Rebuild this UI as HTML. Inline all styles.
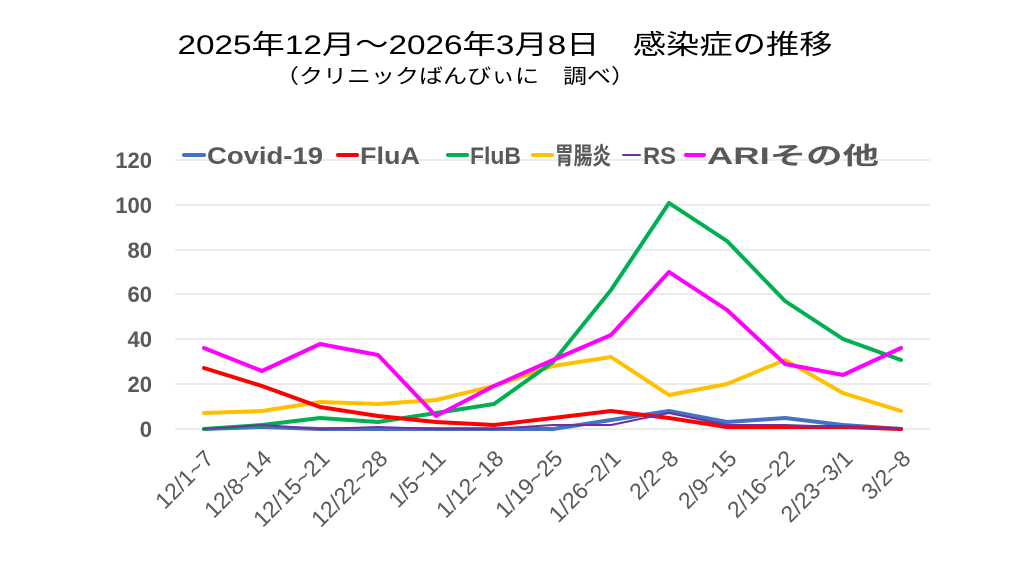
<!DOCTYPE html>
<html><head><meta charset="utf-8"><style>body{margin:0;background:#fff}svg{display:block}</style></head>
<body>
<svg width="1024" height="576" xmlns="http://www.w3.org/2000/svg" font-family="'Liberation Sans','Noto Sans CJK JP',sans-serif">
<text x="505" y="54" font-size="27" text-anchor="middle" fill="#000" textLength="655" lengthAdjust="spacingAndGlyphs">2025年12月～2026年3月8日　感染症の推移</text>
<text x="455" y="83" font-size="20" text-anchor="middle" fill="#000" textLength="360" lengthAdjust="spacingAndGlyphs">（クリニックばんびぃに　調べ）</text>
<g stroke="#d9d9d9" stroke-width="1">
<line x1="175" x2="930" y1="160" y2="160"/><line x1="175" x2="930" y1="205" y2="205"/><line x1="175" x2="930" y1="250" y2="250"/><line x1="175" x2="930" y1="294" y2="294"/><line x1="175" x2="930" y1="339" y2="339"/><line x1="175" x2="930" y1="384" y2="384"/><line x1="175" x2="930" y1="429" y2="429"/>
</g>
<g font-size="22" font-weight="bold" fill="#595959" text-anchor="end">
<text x="152" y="168">120</text><text x="152" y="213">100</text><text x="152" y="258">80</text><text x="152" y="302">60</text><text x="152" y="347">40</text><text x="152" y="392">20</text><text x="152" y="437">0</text>
</g>
<g font-size="23" fill="#595959" text-anchor="end">
<text transform="translate(215,460) rotate(-45)">12/1~7</text>
<text transform="translate(273,460) rotate(-45)">12/8~14</text>
<text transform="translate(331,460) rotate(-45)">12/15~21</text>
<text transform="translate(389,460) rotate(-45)">12/22~28</text>
<text transform="translate(447,460) rotate(-45)">1/5~11</text>
<text transform="translate(505,460) rotate(-45)">1/12~18</text>
<text transform="translate(564,460) rotate(-45)">1/19~25</text>
<text transform="translate(622,460) rotate(-45)">1/26~2/1</text>
<text transform="translate(680,460) rotate(-45)">2/2~8</text>
<text transform="translate(738,460) rotate(-45)">2/9~15</text>
<text transform="translate(796,460) rotate(-45)">2/16~22</text>
<text transform="translate(854,460) rotate(-45)">2/23~3/1</text>
<text transform="translate(912,460) rotate(-45)">3/2~8</text>
</g>
<g fill="none" stroke-width="4" stroke-linejoin="round" stroke-linecap="round">
<polyline stroke="#4472c4" points="204,429 262,427 320,429 378,429 436,429 494,429 553,429 611,420 669,411 727,422 785,418 843,425 901,429"/>
<polyline stroke="#ffc000" points="204,413 262,411 320,402 378,404 436,400 494,386 553,366 611,357 669,395 727,384 785,360 843,393 901,411"/>
<polyline stroke="#00b050" points="204,429 262,425 320,418 378,422 436,413 494,404 553,362 611,290 669,203 727,241 785,301 843,339 901,360"/>
<polyline stroke="#ff0000" points="204,368 262,386 320,407 378,416 436,422 494,425 553,418 611,411 669,418 727,427 785,427 843,427 901,429"/>
<polyline stroke="#7030a0" stroke-width="2" points="204,429 262,425 320,429 378,427 436,429 494,429 553,425 611,425 669,413 727,425 785,425 843,427 901,429"/>
<polyline stroke="#ff00ff" points="204,348 262,371 320,344 378,355 436,416 494,386 553,360 611,335 669,272 727,310 785,364 843,375 901,348"/>
</g>
<g stroke-width="4" stroke-linecap="round">
<line x1="184" x2="204" y1="155" y2="155" stroke="#4472c4"/>
<line x1="338" x2="357" y1="155" y2="155" stroke="#ff0000"/>
<line x1="448" x2="467" y1="155" y2="155" stroke="#00b050"/>
<line x1="533" x2="552" y1="155" y2="155" stroke="#ffc000"/>
<line x1="623" x2="640" y1="155" y2="155" stroke="#7030a0" stroke-width="2"/>
<line x1="686" x2="704" y1="155" y2="155" stroke="#ff00ff"/>
</g>
<g font-size="24" font-weight="bold" fill="#595959">
<text x="207" y="164" textLength="116" lengthAdjust="spacingAndGlyphs">Covid-19</text>
<text x="360" y="164" textLength="60" lengthAdjust="spacingAndGlyphs">FluA</text>
<text x="470" y="164" textLength="51" lengthAdjust="spacingAndGlyphs">FluB</text>
<text x="555" y="164" textLength="56" lengthAdjust="spacingAndGlyphs">胃腸炎</text>
<text x="643" y="164" textLength="33" lengthAdjust="spacingAndGlyphs">RS</text>
<text x="707" y="164" textLength="172" lengthAdjust="spacingAndGlyphs">ARIその他</text>
</g>
</svg>
</body></html>
